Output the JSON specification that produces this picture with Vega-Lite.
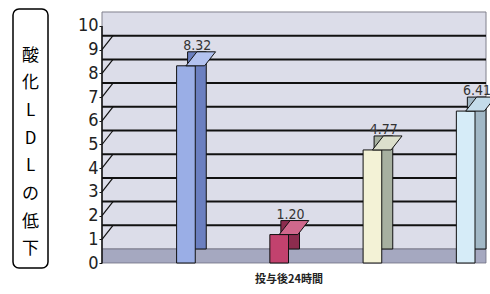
{
  "$schema": "https://vega.github.io/schema/vega-lite/v6.json",
  "padding": {"left": 12, "top": 8, "right": 0, "bottom": 0},
  "background": "white",
  "spacing": 28,
  "config": {
    "axisY": {"labelOverlap": false, "grid": false, "domain": false, "tickColor": "#111", "tickSize": 3, "labelPadding": 1, "labelFont": "DejaVu Sans Condensed", "labelFontSize": 18, "labelColor": "#222", "title": null}
  },
  "datasets": {
    "bars": [
      {"series": "系列1", "value": 8.32},
      {"series": "系列2", "value": 1.20},
      {"series": "系列3", "value": 4.77},
      {"series": "系列4", "value": 6.41}
    ],
    "grid": [{"v": 1}, {"v": 2}, {"v": 3}, {"v": 4}, {"v": 5}, {"v": 6}, {"v": 7}, {"v": 8}, {"v": 9}]
  },
  "hconcat": [
    {
      "width": 35,
      "height": 259,
      "view": {"stroke": "black", "strokeWidth": 1.5, "cornerRadius": 6, "fill": "white"},
      "data": {"values": [{"label": ["酸", "化", "L", "D", "L", "の", "低", "下"]}]},
      "mark": {"type": "text", "font": "Noto Sans CJK JP", "fontSize": 17, "lineHeight": 27.7, "baseline": "middle", "dy": -83, "color": "black"},
      "encoding": {"text": {"field": "label", "type": "nominal"}}
    },
    {
      "width": 373,
      "height": 254,
      "view": {"stroke": null},
      "data": {"name": "bars"},
      "resolve": {"scale": {"x": "independent", "color": "independent"}, "axis": {"x": "independent"}},
      "layer": [
        {
          "data": {"values": [{}]},
          "mark": {"type": "rect", "fill": "#dcdde9", "stroke": "#80808c", "strokeWidth": 1, "xOffset": 11, "x2Offset": 11, "yOffset": -14, "y2Offset": -14},
          "encoding": {
            "y": {"datum": 0, "type": "quantitative",
              "scale": {"domain": [0, 10.717], "nice": false, "zero": true},
              "axis": {"values": [0, 1, 2, 3, 4, 5, 6, 7, 8, 9, 10], "tickCount": 11, "labelOverlap": false, "title": null}},
            "y2": {"datum": 10}
          }
        },
        {
          "data": {"values": [{}]},
          "mark": {"type": "rect", "fill": "#a5a8c0", "stroke": "#6e7080", "strokeWidth": 0.8, "xOffset": 11, "x2Offset": 0, "yOffset": 0, "y2Offset": -14},
          "encoding": {
            "y": {"datum": 0, "type": "quantitative", "axis": {"values": [0, 1, 2, 3, 4, 5, 6, 7, 8, 9, 10], "tickCount": 11, "labelOverlap": false, "title": null}},
            "y2": {"datum": 0}
          }
        },
        {
          "data": {"name": "grid"},
          "mark": {"type": "rule", "color": "#111", "strokeWidth": 2, "xOffset": 11, "x2Offset": 11, "yOffset": -14, "y2Offset": -14},
          "encoding": {
            "y": {"field": "v", "type": "quantitative", "axis": {"values": [0, 1, 2, 3, 4, 5, 6, 7, 8, 9, 10], "tickCount": 11, "labelOverlap": false, "title": null}}
          }
        },
        {
          "data": {"name": "grid"},
          "mark": {"type": "rule", "color": "#111", "strokeWidth": 1.2, "x2Offset": 11, "y2Offset": -14},
          "encoding": {
            "x": {"datum": 0, "type": "quantitative", "scale": {"domain": [0, 1]}, "axis": null},
            "x2": {"datum": 0},
            "y": {"field": "v", "type": "quantitative", "axis": {"values": [0, 1, 2, 3, 4, 5, 6, 7, 8, 9, 10], "tickCount": 11, "labelOverlap": false, "title": null}},
            "y2": {"field": "v"}
          }
        },
        {
          "data": {"values": [{}]},
          "mark": {"type": "rule", "color": "#111", "strokeWidth": 1.5},
          "encoding": {
            "x": {"datum": 0, "type": "quantitative", "scale": {"domain": [0, 1]}, "axis": null},
            "y": {"datum": 0, "type": "quantitative", "axis": {"values": [0, 1, 2, 3, 4, 5, 6, 7, 8, 9, 10], "tickCount": 11, "labelOverlap": false, "title": null}},
            "y2": {"datum": 10}
          }
        },
        {
          "mark": {"type": "bar", "xOffset": 11, "yOffset": -14, "y2Offset": -14, "stroke": "#111", "strokeWidth": 1},
          "encoding": {
            "x": {"field": "series", "type": "nominal", "scale": {"paddingInner": 0.8, "paddingOuter": 0.4, "align": 1}, "axis": null},
            "y": {"field": "value", "type": "quantitative", "axis": {"values": [0, 1, 2, 3, 4, 5, 6, 7, 8, 9, 10], "tickCount": 11, "labelOverlap": false, "title": null}},
            "color": {"field": "series", "type": "nominal", "scale": {"range": ["#6b7fc0", "#8c2c4e", "#a7b0a0", "#a2b8c6"]}, "legend": null}
          }
        },
        {
          "mark": {"type": "bar", "stroke": "#111", "strokeWidth": 1},
          "encoding": {
            "x": {"field": "series", "type": "nominal", "scale": {"paddingInner": 0.8, "paddingOuter": 0.4, "align": 1},
              "axis": {"title": "投与後24時間", "labels": false, "ticks": false, "domain": false, "titleFont": "Noto Sans CJK JP", "titleFontSize": 11, "titleFontWeight": "bold", "titlePadding": 10, "titleColor": "#222"}},
            "y": {"field": "value", "type": "quantitative", "axis": {"values": [0, 1, 2, 3, 4, 5, 6, 7, 8, 9, 10], "tickCount": 11, "labelOverlap": false, "title": null}},
            "color": {"field": "series", "type": "nominal", "scale": {"range": ["#9aaee6", "#c2426e", "#f3f2d6", "#d6ecf8"]}, "legend": null}
          }
        },
        {
          "mark": {"type": "point", "filled": true, "opacity": 1, "size": 784, "shape": "M-1.0571,0.5L0.275,0.5L1.0571,-0.5L-0.275,-0.5Z", "xOffset": 5.5, "yOffset": -7, "stroke": "#111", "strokeWidth": 1},
          "encoding": {
            "x": {"field": "series", "type": "nominal", "scale": {"paddingInner": 0.8, "paddingOuter": 0.4, "align": 1}, "axis": null},
            "y": {"field": "value", "type": "quantitative", "axis": {"values": [0, 1, 2, 3, 4, 5, 6, 7, 8, 9, 10], "tickCount": 11, "labelOverlap": false, "title": null}},
            "color": {"field": "series", "type": "nominal", "scale": {"range": ["#b3c2f0", "#d0688c", "#dcdfcc", "#c4dcea"]}, "legend": null}
          }
        },
        {
          "mark": {"type": "text", "font": "DejaVu Sans Condensed", "fontSize": 14, "color": "#333", "xOffset": 2, "yOffset": -20},
          "encoding": {
            "x": {"field": "series", "type": "nominal", "scale": {"paddingInner": 0.8, "paddingOuter": 0.4, "align": 1}, "axis": null},
            "y": {"field": "value", "type": "quantitative", "axis": {"values": [0, 1, 2, 3, 4, 5, 6, 7, 8, 9, 10], "tickCount": 11, "labelOverlap": false, "title": null}},
            "text": {"field": "value", "type": "quantitative", "format": ".2f"}
          }
        }
      ]
    }
  ]
}
